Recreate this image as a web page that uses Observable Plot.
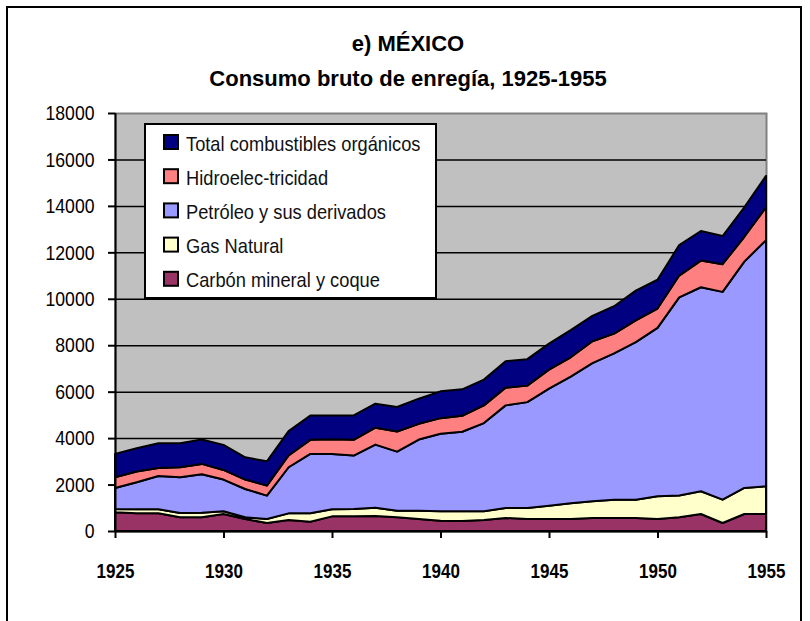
<!DOCTYPE html>
<html><head><meta charset="utf-8">
<script src="https://cdn.jsdelivr.net/npm/d3@7"></script>
<script src="https://cdn.jsdelivr.net/npm/@observablehq/plot@0.6"></script>
<style>
body{margin:0;background:#fff;}
#chart svg{display:block;}
</style></head><body><div id="chart"></div>
<script>
const years = [1925,1926,1927,1928,1929,1930,1931,1932,1933,1934,1935,1936,1937,1938,1939,1940,1941,1942,1943,1944,1945,1946,1947,1948,1949,1950,1951,1952,1953,1954,1955];
const carbon = [805,760,760,590,590,730,517,345,475,400,630,630,645,590,517,445,430,475,560,517,517,517,560,560,560,517,590,733,345,733,733];
const gas = [145,175,175,185,200,120,73,172,285,360,305,320,360,285,358,405,420,375,430,473,573,673,720,790,790,978,935,977,1005,1122,1192];
const petroleo = [905,1165,1435,1540,1655,1365,1220,1008,1985,2560,2385,2300,2715,2545,3065,3337,3423,3797,4420,4560,5040,5460,5950,6300,6780,7255,8535,8786,8948,9745,10600];
const hidro = [460,460,345,430,445,415,405,430,505,605,630,675,730,865,675,673,691,763,763,710,820,830,940,850,940,830,940,1149,1192,1070,1415];
const totalOrg = [1005,1005,1065,1035,1050,1080,960,1045,1050,1045,1028,1053,1032,1053,1083,1154,1136,1108,1136,1140,1120,1170,1090,1180,1280,1240,1310,1275,1210,1270,1350];

const seriesNames = ["Carbón mineral y coque","Gas Natural","Petróleo y sus derivados","Hidroelec-tricidad","Total combustibles orgánicos"];
const seriesValues = [carbon, gas, petroleo, hidro, totalOrg];
const seriesColors = ["#993366","#FFFFCC","#9999FF","#FF8080","#000080"];
const legendOrder = ["Total combustibles orgánicos","Hidroelec-tricidad","Petróleo y sus derivados","Gas Natural","Carbón mineral y coque"];
const yTicks = [0,2000,4000,6000,8000,10000,12000,14000,16000,18000];
const xTicks = [1925,1930,1935,1940,1945,1950,1955];
const titleText = "e) MÉXICO";
const subtitleText = "Consumo bruto de enregía, 1925-1955";

const data = [];
seriesValues.forEach((vals, i) => years.forEach((yr, j) => data.push({year: yr, series: seriesNames[i], value: vals[j]})));

const FONT = "'Liberation Sans',Arial,sans-serif";

const chart = Plot.plot({
  width: 810, height: 621,
  marginLeft: 115, marginRight: 44, marginTop: 113, marginBottom: 90,
  style: {fontFamily: FONT, background: "white", overflow: "visible", color: "black"},
  x: {domain: [1925, 1955]},
  y: {domain: [0, 18000]},
  color: {domain: seriesNames, range: seriesColors},
  marks: [
    Plot.frame({fill: "#C0C0C0", stroke: "#808080", strokeWidth: 2}),
    Plot.ruleY(yTicks.filter(d => d > 0 && d < 18000), {stroke: "black", strokeWidth: 1.5}),
    Plot.areaY(data, {x: "year", y: "value", z: "series", fill: "series", order: seriesNames, stroke: "black", strokeWidth: 2, strokeLinejoin: "round"}),
    Plot.ruleX([1925], {stroke: "black", strokeWidth: 2}),
    Plot.ruleY([0], {stroke: "black", strokeWidth: 2}),
    Plot.axisY({ticks: yTicks, tickSize: 7, tickPadding: 14, fontSize: 21, tickFormat: d => String(d), label: null, strokeWidth: 2}),
    Plot.axisX({ticks: xTicks, tickSize: 7, tickPadding: 25, fontSize: 21, fontWeight: "bold", tickFormat: d => String(d), label: null, strokeWidth: 2})
  ]
});
document.getElementById("chart").appendChild(chart);

const svg = d3.select(chart);
function squeeze(sel, s) {
  sel.each(function() {
    const t = this.getAttribute("transform") || "";
    const ax = +(this.getAttribute("x") || 0);
    this.setAttribute("transform", `${t} translate(${ax},0) scale(${s},1) translate(${-ax},0)`);
  });
}
squeeze(svg.selectAll('g[aria-label="y-axis tick label"] text'), 0.84);
squeeze(svg.selectAll('g[aria-label="x-axis tick label"] text'), 0.81);

// outer border
svg.append("rect").attr("x", 7).attr("y", 7).attr("width", 794).attr("height", 640)
  .attr("fill", "none").attr("stroke", "black").attr("stroke-width", 2);
// titles
svg.append("text").attr("x", 408).attr("y", 51).attr("text-anchor", "middle")
  .attr("font-family", FONT).attr("font-size", 22).attr("font-weight", "bold").text(titleText);
svg.append("text").attr("x", 408).attr("y", 86).attr("text-anchor", "middle")
  .attr("font-family", FONT).attr("font-size", 22).attr("font-weight", "bold").text(subtitleText);
// legend
const lg = svg.append("g");
lg.append("rect").attr("x", 145).attr("y", 124).attr("width", 291).attr("height", 174)
  .attr("fill", "white").attr("stroke", "black").attr("stroke-width", 2);
legendOrder.forEach((name, i) => {
  const top = 135 + i * 34.2;
  lg.append("rect").attr("x", 164).attr("y", top).attr("width", 14).attr("height", 14)
    .attr("fill", seriesColors[seriesNames.indexOf(name)]).attr("stroke", "black").attr("stroke-width", 2);
  lg.append("text").attr("transform", `translate(186,${top + 15.5}) scale(0.87,1)`)
    .attr("text-anchor", "start").attr("font-family", FONT).attr("font-size", 21)
    .attr("fill", "#111").text(name);
});
</script>
</body></html>
